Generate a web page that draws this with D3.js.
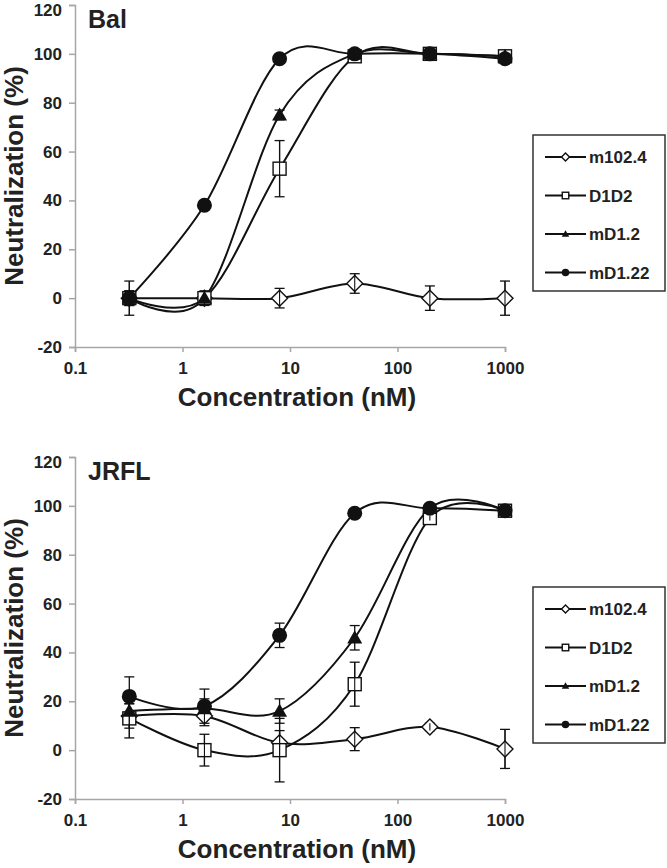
<!DOCTYPE html>
<html><head><meta charset="utf-8">
<script src="https://cdn.jsdelivr.net/npm/d3@7"></script>
<style>body{margin:0;background:#fff}svg{display:block;font-family:"Liberation Sans",Arial,sans-serif}</style>
</head><body><svg id="c" width="667" height="868"></svg>
<script>
const conc = [0.32, 1.6, 8, 40, 200, 1000];
const seriesNames = ["m102.4", "D1D2", "mD1.2", "mD1.22"];
const xTicks = [0.1, 1, 10, 100, 1000];
const xTickLabels = ["0.1", "1", "10", "100", "1000"];
const yTicks = [-20, 0, 20, 40, 60, 80, 100, 120];
const yTickLabels = ["-20", "0", "20", "40", "60", "80", "100", "120"];

// Bal panel
const balM102 = [0, 0, 0, 6, 0, 0];
const balM102Err = [7, 3, 4, 4, 5, 7];
const balD1D2 = [0, 0, 53, 99, 100, 99];
const balD1D2Err = [3, 2, 11.5, 1, 1, 1];
const balMD12 = [0, 0, 75, 100, 100, 99];
const balMD12Err = [3, 2, 2, 1, 1, 1];
const balMD122 = [0, 38, 98, 100, 100, 98];
const balMD122Err = [2, 1, 1, 1, 1, 1];

// JRFL panel
const jrM102 = [14, 14, 3, 4.5, 9.5, 0.5];
const jrM102Err = [5, 4, 5, 4.7, 1.5, 8];
const jrD1D2 = [13, 0, 0, 27, 95, 98];
const jrD1D2Err = [8, 6.5, 13, 9, 1, 1];
const jrMD12 = [16, 17, 16, 46, 99, 98];
const jrMD12Err = [3, 4, 5, 5, 1, 1];
const jrMD122 = [22, 18, 47, 97, 99, 98];
const jrMD122Err = [8, 7, 5, 1, 1, 1];

const panels = [
  {title: "Bal", top: 5, bottom: 347, data: [balM102, balD1D2, balMD12, balMD122], err: [balM102Err, balD1D2Err, balMD12Err, balMD122Err], legendY: 135},
  {title: "JRFL", top: 457, bottom: 799, data: [jrM102, jrD1D2, jrMD12, jrMD122], err: [jrM102Err, jrD1D2Err, jrMD12Err, jrMD122Err], legendY: 587}
];

const svg = d3.select("#c");
const x = d3.scaleLog().domain([0.1, 1000]).range([75, 505]);
const axisColor = "#a6a6a6";
const txt = "#222";

function marker(g, type, cx, cy, s) {
  if (type === 0) {
    const r = 8 * s;
    g.append("path").attr("d", `M${cx},${cy - r}L${cx + r},${cy}L${cx},${cy + r}L${cx - r},${cy}Z`)
      .attr("fill", "#fff").attr("stroke", "#111").attr("stroke-width", 1.4);
  } else if (type === 1) {
    const h = 6.5 * s;
    g.append("rect").attr("x", cx - h).attr("y", cy - h).attr("width", 2 * h).attr("height", 2 * h)
      .attr("fill", "#fff").attr("stroke", "#111").attr("stroke-width", 1.4);
  } else if (type === 2) {
    const h = 7.5 * s;
    g.append("path").attr("d", `M${cx},${cy - h}L${cx + h},${cy + h * 0.75}L${cx - h},${cy + h * 0.75}Z`)
      .attr("fill", "#111");
  } else {
    g.append("circle").attr("cx", cx).attr("cy", cy).attr("r", 7.5 * s).attr("fill", "#111");
  }
}

panels.forEach(p => {
  const y = d3.scaleLinear().domain([-20, 120]).range([p.bottom, p.top]);
  const g = svg.append("g");
  // y axis
  const ya = g.append("g").attr("transform", "translate(75,0)")
    .call(d3.axisLeft(y).tickValues(yTicks).tickSize(6).tickPadding(7).tickFormat((d, i) => yTickLabels[i]));
  ya.select(".domain").attr("stroke", axisColor).attr("stroke-width", 1.5);
  ya.selectAll(".tick line").attr("stroke", axisColor).attr("stroke-width", 1.5);
  ya.selectAll("text").attr("font-size", 17).attr("font-weight", "bold").attr("fill", txt)
    .attr("font-family", "Liberation Sans, Arial, sans-serif")
    .attr("dy", d => d === 120 ? "0.6em" : "0.32em");
  // x axis
  const xa = g.append("g").attr("transform", `translate(0,${p.bottom})`)
    .call(d3.axisBottom(x).tickValues(xTicks).tickSize(5).tickPadding(10).tickFormat((d, i) => xTickLabels[i]));
  xa.select(".domain").attr("stroke", axisColor).attr("stroke-width", 1.5);
  xa.selectAll(".tick line").attr("stroke", axisColor).attr("stroke-width", 1.5);
  xa.selectAll("text").attr("font-size", 17).attr("font-weight", "bold").attr("fill", txt)
    .attr("font-family", "Liberation Sans, Arial, sans-serif");
  // titles
  g.append("text").attr("x", 297).attr("y", p.bottom + 59).attr("text-anchor", "middle")
    .attr("font-size", 26).attr("font-weight", "bold").attr("fill", txt).text("Concentration (nM)");
  g.append("text").attr("transform", `translate(23,${(p.top + p.bottom) / 2}) rotate(-90)`).attr("text-anchor", "middle")
    .attr("font-size", 26).attr("font-weight", "bold").attr("fill", txt).text("Neutralization (%)");
  g.append("text").attr("x", 88).attr("y", p.top + 23).attr("font-size", 25).attr("font-weight", "bold")
    .attr("fill", txt).text(p.title);

  const line = d3.line().x((d, i) => x(conc[i])).y(d => y(d)).curve(d3.curveCardinal.tension(0));
  p.data.forEach((vals, si) => {
    const sg = g.append("g");
    sg.append("path").attr("d", line(vals)).attr("fill", "none").attr("stroke", "#111").attr("stroke-width", 2);
    vals.forEach((v, i) => {
      const e = p.err[si][i];
      const cx = x(conc[i]);
      sg.append("line").attr("x1", cx).attr("x2", cx).attr("y1", y(v - e)).attr("y2", y(v + e))
        .attr("stroke", "#111").attr("stroke-width", 1.3);
      [v - e, v + e].forEach(ev => sg.append("line").attr("x1", cx - 5).attr("x2", cx + 5)
        .attr("y1", y(ev)).attr("y2", y(ev)).attr("stroke", "#111").attr("stroke-width", 1.3));
    });
  });
  p.data.forEach((vals, si) => {
    vals.forEach((v, i) => marker(g, si, x(conc[i]), y(v), 1));
  });
  p.data.forEach((vals, si) => {
    if (si > 1) return;
    vals.forEach((v, i) => {
      const e = p.err[si][i];
      const cx = x(conc[i]);
      g.append("line").attr("x1", cx).attr("x2", cx).attr("y1", y(v - e)).attr("y2", y(v + e))
        .attr("stroke", "#111").attr("stroke-width", 1.1);
    });
  });

  // legend
  const lg = g.append("g");
  lg.append("rect").attr("x", 533).attr("y", p.legendY).attr("width", 132).attr("height", 156)
    .attr("fill", "#fff").attr("stroke", "#333").attr("stroke-width", 1.5);
  seriesNames.forEach((n, i) => {
    const ly = p.legendY + 22 + i * 38.5;
    lg.append("line").attr("x1", 545).attr("x2", 586).attr("y1", ly).attr("y2", ly).attr("stroke", "#111").attr("stroke-width", 1.8);
    marker(lg, i, 565.5, ly, 0.5);
    lg.append("text").attr("x", 589).attr("y", ly + 6).attr("font-size", 17).attr("font-weight", "bold")
      .attr("fill", txt).text(n);
  });
});
</script></body></html>
